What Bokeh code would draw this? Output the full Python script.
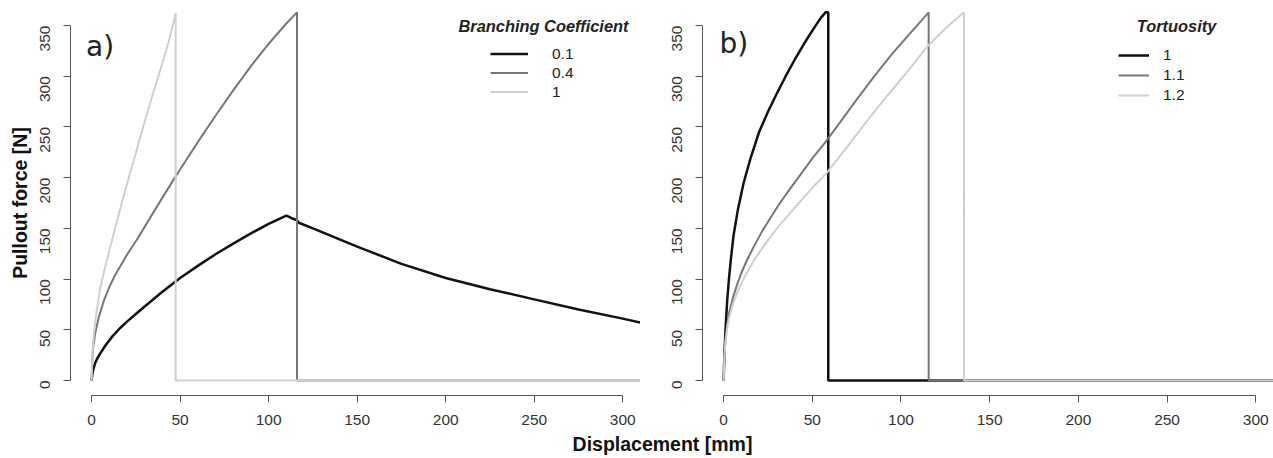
import math
from bokeh.plotting import figure
from bokeh.models import Legend, LegendItem, Label, FixedTicker, Range1d
from bokeh.layouts import column, row
from bokeh.embed import file_html
from bokeh.resources import INLINE

# ---------------- data ----------------
x_ticks = [0, 50, 100, 150, 200, 250, 300]
y_ticks = [0, 50, 100, 150, 200, 250, 300, 350]

# Panel a: Branching Coefficient
a_title = "Branching Coefficient"
a_labels = ["0.1", "0.4", "1"]
bc01_x = [0, 0.5, 1, 2, 3, 5, 8, 12, 16, 20, 25, 30, 40, 50, 60, 70, 80, 90, 100, 110, 113, 116, 117, 125, 150, 175, 200, 225, 250, 275, 300, 310]
bc01_y = [0, 7, 11, 17, 21, 27, 35, 44, 51.5, 58, 65.5, 73, 87.5, 101, 113, 124.5, 135, 145, 154.5, 162.5, 160, 158, 155.5, 150, 132, 115, 101, 90, 80, 70, 61, 57]
bc04_x = [0, 0.5, 1, 2, 4, 7, 10, 13, 20, 26, 35, 47, 50, 60, 70, 80, 90, 100, 110, 116, 116, 310]
bc04_y = [0, 24, 34, 46, 62, 79, 92, 103, 124, 140, 166, 200, 208, 235, 261, 286, 310, 332, 352, 363, 0, 0]
bc1_x = [0, 0.5, 1, 2, 3, 5, 7, 10, 14, 18, 21, 24, 28, 31, 34, 37, 40, 44, 47.5, 47.5, 310]
bc1_y = [0, 26, 40, 57, 70, 92, 107, 128, 155, 181, 200, 218, 243, 261, 279, 296, 313, 337, 362, 0, 0]

# Panel b: Tortuosity
b_title = "Tortuosity"
b_labels = ["1", "1.1", "1.2"]
t1_x = [0, 0.5, 1, 2, 3, 4, 5.6, 8, 11.3, 15, 20, 25, 30, 35, 40, 45, 50, 55, 57.5, 59, 59, 310]
t1_y = [0, 28, 48, 78, 100, 118, 143, 168, 195, 218, 245, 265, 283, 300, 316, 331, 345, 358, 363, 363, 0, 0]
t11_x = [0, 0.5, 1, 2, 3, 5, 7.5, 10, 13, 17, 22, 27, 31, 37, 45, 50, 57.4, 65, 75, 85, 95, 105, 115.6, 115.6, 310]
t11_y = [0, 26, 40, 55, 66, 80, 94, 106, 118, 132, 148, 162, 173, 188, 207, 219, 235, 253, 277, 300, 322, 342, 363, 0, 0]
t12_x = [0, 0.5, 1, 2, 3, 5, 7.5, 10, 13, 17, 22, 27, 31, 38, 45, 50, 58.3, 70, 80, 90, 100, 107, 114.7, 125, 135.5, 135.5, 310]
t12_y = [0, 24, 37, 51, 61, 74, 86, 96, 106, 118, 131, 143, 152, 166, 180, 190, 205, 231, 254, 276, 297, 312, 329, 347, 363, 0, 0]

colors = ["#111111", "#777777", "#cfcfcf"]
widths = [2.5, 2, 2]

FONT = "Liberation Sans"
TICK_SIZE = "15.5px"


def style_axes(p):
    for ax in (p.xaxis[0], p.yaxis[0]):
        ax.axis_line_color = "#555555"
        ax.axis_line_width = 1
        ax.major_tick_line_color = "#555555"
        ax.major_tick_out = 7
        ax.major_tick_in = 0
        ax.minor_tick_out = 0
        ax.minor_tick_in = 0
        ax.major_label_text_font = FONT
        ax.major_label_text_font_size = TICK_SIZE
        ax.major_label_text_color = "#333333"
    p.xaxis.ticker = FixedTicker(ticks=x_ticks)
    p.yaxis.ticker = FixedTicker(ticks=y_ticks)
    p.xaxis.bounds = (x_ticks[0], x_ticks[-1])
    p.yaxis.bounds = (y_ticks[0], y_ticks[-1])
    p.yaxis.major_label_orientation = math.pi / 2
    p.xaxis.major_label_standoff = 12
    p.yaxis.major_label_standoff = 18
    p.xgrid.visible = False
    p.ygrid.visible = False
    p.outline_line_color = None
    p.background_fill_color = "white"
    p.border_fill_color = "white"


def make_panel(width, left, xs, ys, labels, title, glyph_w, standoff, row_h, leg_loc, title_x, tag, tag_x, tag_y):
    p = figure(width=width, height=430, output_backend="svg", toolbar_location=None,
               x_range=Range1d(-11.9, 310), y_range=Range1d(-14.8, 364.8),
               min_border_left=left, min_border_right=0, min_border_top=10, min_border_bottom=35)
    style_axes(p)
    rs = []
    for x, y, c, w in zip(xs, ys, colors, widths):
        rs.append(p.line(x, y, line_color=c, line_width=w))
    items = [LegendItem(label=lab, renderers=[r]) for lab, r in zip(labels, rs)]
    leg = Legend(items=items, location=leg_loc, orientation="vertical",
                 glyph_width=glyph_w, glyph_height=row_h, label_height=row_h,
                 label_standoff=standoff, spacing=0, padding=0, margin=0,
                 border_line_color=None, background_fill_alpha=0,
                 label_text_font=FONT, label_text_font_size=TICK_SIZE,
                 label_text_color="#222222", label_text_baseline="middle")
    p.add_layout(leg)
    p.add_layout(Label(x=title_x, y=370, x_units="screen", y_units="screen", text=title,
                       text_font=FONT, text_font_size="16.4px", text_font_style="bold italic",
                       text_color="#222222", text_align="center", text_baseline="middle"))
    p.add_layout(Label(x=tag_x, y=tag_y, x_units="screen", y_units="screen", text=tag,
                       text_font="DejaVu Sans", text_font_size="28px",
                       text_color="#222222", text_align="left", text_baseline="alphabetic"))
    return p


pa = make_panel(640, 70, [bc01_x, bc04_x, bc1_x], [bc01_y, bc04_y, bc1_y], a_labels, a_title,
                38, 24, 19, (420, 294), 473, "a)", 15.5, 349)
pa.yaxis.axis_label = "Pullout force [N]"
pa.yaxis.axis_label_text_font = FONT
pa.yaxis.axis_label_text_font_size = "19.5px"
pa.yaxis.axis_label_text_font_style = "bold"
pa.yaxis.axis_label_text_color = "#111111"
pa.yaxis.axis_label_standoff = 2

pb = make_panel(633, 62, [t1_x, t11_x, t12_x], [t1_y, t11_y, t12_y], b_labels, b_title,
                31, 14, 20, (416, 290), 474, "b)", 17, 352)

strip = figure(width=1273, height=28, output_backend="svg", toolbar_location=None,
               x_axis_location=None, y_axis_location=None, min_border=0,
               x_range=Range1d(0, 1), y_range=Range1d(0, 1))
strip.outline_line_color = None
strip.xgrid.visible = False
strip.ygrid.visible = False
strip.add_layout(Label(x=662, y=14.5, x_units="screen", y_units="screen", text="Displacement [mm]",
                       text_font=FONT, text_font_size="19.5px", text_font_style="bold",
                       text_color="#111111", text_align="center", text_baseline="middle"))

layout = column(row(pa, pb, spacing=0), strip, spacing=0)
open("out.html", "w").write(file_html(layout, INLINE))
